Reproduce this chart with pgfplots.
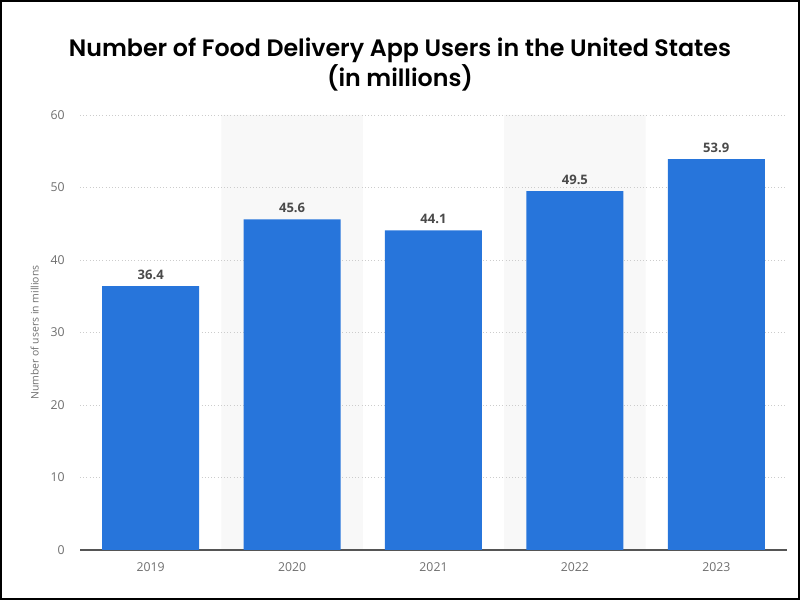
\documentclass[border=0pt]{standalone}
\usepackage{pgfplots}
\pgfplotsset{compat=1.18}
\usepackage{fontspec}
\setmainfont{Open Sans}
\newfontfamily\titlefont{Poppins}[BoldFont={Poppins SemiBold}]
\definecolor{barblue}{HTML}{2775DB}
\definecolor{band}{HTML}{F8F8F8}
\definecolor{ticktext}{HTML}{6E6E6E}
\definecolor{valtext}{HTML}{4A4A4A}
\definecolor{gridc}{HTML}{CCCCCC}
\definecolor{axisc}{HTML}{555555}
\begin{document}
\begin{tikzpicture}
\begin{axis}[
  set layers,
  at={(60pt,37.5pt)}, anchor=south west,
  scale only axis, width=530.25pt, height=326.25pt,
  xmin=-0.5, xmax=4.5, ymin=0, ymax=60,
  xtick={0,1,2,3,4},
  xticklabels={2019,2020,2021,2022,2023},
  ytick={0,10,20,30,40,50,60},
  ymajorgrids,
  grid style={gridc, dotted, line width=0.45pt},
  axis x line*=bottom, axis y line*=left,
  x axis line style={axisc, line width=1.1pt, -},
  y axis line style={draw=none},
  major tick length=0pt,
  xtick style={draw=none},
  ytick style={draw=none},
  tick label style={ticktext, font=\fontsize{9.2}{11}\selectfont},
  /pgf/number format/assume math mode=true,
  yticklabel style={anchor=east, xshift=-8pt},
  xticklabel style={yshift=-6pt},
  y tick label style={/pgf/number format/fixed},
  ylabel={Number of users in millions},
  ylabel style={ticktext, font=\fontsize{7.8}{9}\selectfont, at={(axis description cs:-0.064,0.5)}, anchor=center},
  clip=false,
]
\addplot[ybar, bar width=1, fill=band, draw=none, forget plot, on layer=axis background] coordinates {(1,60) (3,60)};
\addplot[ybar, bar width=0.686, fill=barblue, draw=none,
  nodes near coords,
  nodes near coords style={valtext, font=\bfseries\fontsize{9.8}{11}\selectfont, /pgf/number format/fixed, /pgf/number format/fixed zerofill, /pgf/number format/precision=1, /pgf/number format/assume math mode=true, yshift=1.5pt}]
  coordinates {(0,36.4) (1,45.6) (2,44.1) (3,49.5) (4,53.9)};
\end{axis}
\node[font=\titlefont\bfseries\fontsize{17.8}{22}\selectfont,align=center,anchor=center] at (300pt,401.5pt) {Number of Food Delivery App Users in the United States\\(in millions)};
\draw[line width=1.5pt,black] (0.75pt,0.75pt) rectangle (599.25pt,449.25pt);
\end{tikzpicture}
\end{document}
